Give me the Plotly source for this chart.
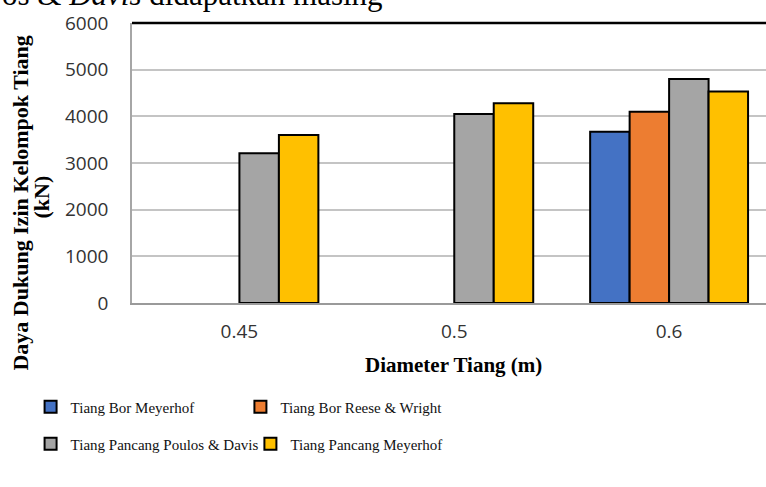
import plotly.graph_objects as go

# Pile diameters (m) and allowable group bearing capacity (kN) per method
diameters = ["0.45", "0.5", "0.6"]
bor_meyerhof = [None, None, 3670]
bor_reese_wright = [None, None, 4100]
pancang_poulos_davis = [3210, 4050, 4800]
pancang_meyerhof = [3600, 4280, 4530]

series_names = [
    "Tiang Bor Meyerhof",
    "Tiang Bor Reese & Wright",
    "Tiang Pancang Poulos & Davis",
    "Tiang Pancang Meyerhof",
]
series_values = [bor_meyerhof, bor_reese_wright, pancang_poulos_davis, pancang_meyerhof]
series_colors = ["#4472C4", "#ED7D31", "#A5A5A5", "#FFC000"]
series_legend = ["legend", "legend2", "legend3", "legend4"]

y_ticks = [0, 1000, 2000, 3000, 4000, 5000, 6000]

W, H = 766, 487
ML, MT, MB = 131.5, 23, 184
PW, PH = W - ML, H - MT - MB


def px_x(p):
    return (p - ML) / PW


def px_y(p):
    return (H - MB - p) / PH


fig = go.Figure()
for name, vals, col, lg in zip(series_names, series_values, series_colors, series_legend):
    fig.add_trace(go.Bar(
        x=diameters, y=vals, name=name, legend=lg,
        marker=dict(color=col, line=dict(color="black", width=2)),
    ))

serif = "Liberation Serif, Times New Roman, serif"
sans = "Open Sans, sans-serif"

# One legend box per entry, laid out as a 2 x 2 grid under the axis
legend_common = dict(
    orientation="h", xref="paper", yref="paper", xanchor="left", yanchor="middle",
    font=dict(family=serif, size=15, color="#111"),
    bgcolor="rgba(0,0,0,0)", itemwidth=30,
)

fig.update_layout(
    width=W, height=H,
    margin=dict(l=ML, r=0, t=MT, b=MB, pad=0),
    paper_bgcolor="white", plot_bgcolor="white",
    barmode="group", bargap=0.265, bargroupgap=0,
    showlegend=True,
    legend=dict(x=px_x(30), y=px_y(407), **legend_common),
    legend2=dict(x=px_x(240), y=px_y(407), **legend_common),
    legend3=dict(x=px_x(30), y=px_y(444), **legend_common),
    legend4=dict(x=px_x(250), y=px_y(444), **legend_common),
    xaxis=dict(
        type="category", range=[-0.5, 2.451],
        showline=True, linecolor="#9a9a9a", linewidth=2,
        showgrid=False, ticks="", ticklabelstandoff=10,
        tickfont=dict(family=sans, size=19, color="#333"),
    ),
    yaxis=dict(
        range=[0, 6000], tickvals=y_ticks,
        showline=True, linecolor="#a6a6a6", linewidth=1.5,
        showgrid=True, gridcolor="#c4c4c4", gridwidth=1.5,
        zeroline=False, ticks="", ticklabelstandoff=18,
        tickfont=dict(family=sans, size=19, color="#333"),
    ),
    shapes=[dict(type="line", xref="paper", yref="paper", x0=0, x1=1, y0=1, y1=1,
                 line=dict(color="black", width=2.5))],
    annotations=[
        dict(text="os & <i>Davis</i> didapatkan masing", xref="paper", yref="paper",
             x=px_x(-1), y=px_y(-5), xanchor="left", yanchor="middle", showarrow=False,
             font=dict(family=serif, size=31, color="black")),
        dict(text="<b>Daya Dukung Izin Kelompok Tiang</b>", xref="paper", yref="paper",
             x=px_x(20), y=px_y(203), xanchor="center", yanchor="middle", showarrow=False,
             textangle=-90, font=dict(family=serif, size=22, color="black")),
        dict(text="<b>(kN)</b>", xref="paper", yref="paper",
             x=px_x(40), y=px_y(197), xanchor="center", yanchor="middle", showarrow=False,
             textangle=-90, font=dict(family=serif, size=22, color="black")),
        dict(text="<b>Diameter Tiang (m)</b>", xref="paper", yref="paper",
             x=px_x(453), y=px_y(365), xanchor="center", yanchor="middle", showarrow=False,
             font=dict(family=serif, size=21, color="black")),
    ],
)

fig.write_html("out.html")
